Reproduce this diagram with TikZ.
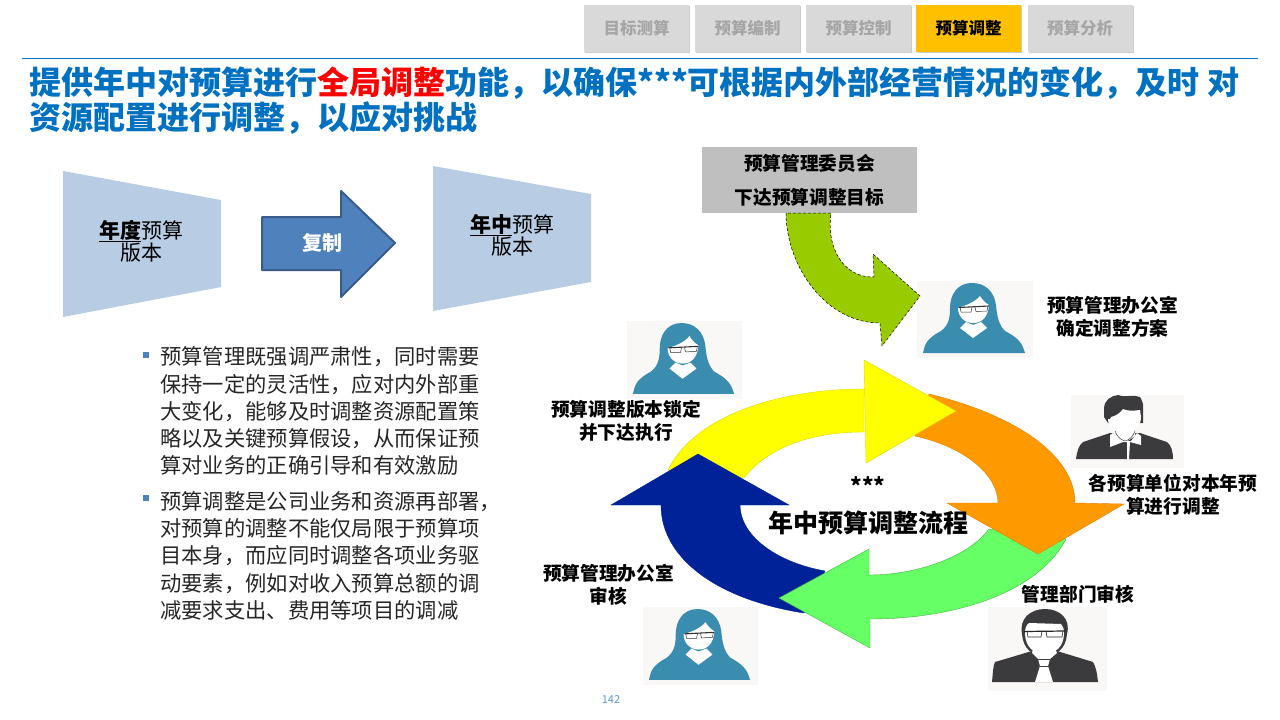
\documentclass[tikz,border=0pt]{standalone}
\usepackage{fontspec}
\setmainfont{Noto Sans CJK SC}
\usepackage{xcolor}
\usepackage{tikz}
\usetikzlibrary{positioning,shadows}
\definecolor{bleutitre}{HTML}{0070C0}
\definecolor{rougetitre}{HTML}{FF0000}
\definecolor{griscase}{HTML}{D9D9D9}
\definecolor{gristexte}{HTML}{A6A6A6}
\definecolor{orcase}{HTML}{FFC000}
\definecolor{bleutrapeze}{HTML}{B8CCE4}
\definecolor{bleufleche}{HTML}{4F81BD}
\definecolor{bleubord}{HTML}{385D8A}
\definecolor{grisboite}{HTML}{BFBFBF}
\definecolor{vertfleche}{HTML}{99CC00}
\definecolor{jaunecycle}{HTML}{FFFF00}
\definecolor{orangecycle}{HTML}{FF9900}
\definecolor{vertcycle}{HTML}{66FF66}
\definecolor{bleucycle}{HTML}{002299}
\definecolor{bleuicone}{HTML}{3A8DAF}
\definecolor{grisicone}{HTML}{3B3B3E}
\definecolor{fondicone}{HTML}{FAF8F6}
\definecolor{bleupage}{HTML}{5B9BD5}
\tikzset{
  tabbox/.style={fill=griscase, text=gristexte, minimum width=105pt, minimum height=47pt, inner sep=0pt,
    drop shadow={shadow xshift=1.2pt, shadow yshift=-1.2pt, fill=black, opacity=.2},
    font=\fontsize{16.5}{16.5}\selectfont\bfseries},
  steplabel/.style={align=center, inner sep=0pt, font=\fontsize{18.7}{23}\selectfont\bfseries},
  bodytext/.style={align=left, anchor=north west, inner sep=0pt, text=black!85, font=\fontsize{21.3}{27.3}\selectfont},
  versionlabel/.style={align=center, inner sep=0pt, font=\fontsize{21}{22}\selectfont},
  womanicon/.pic={
    \fill[fondicone] (0,0) rectangle (116,77);
    \fill[bleuicone] (55,2) .. controls (40,2) and (33,14) .. (33,27) .. controls (33,36) and (32,44) .. (24,50) -- (88,50) .. controls (82,44) and (80,36) .. (79,24) .. controls (77,10) and (68,2) .. (55,2) -- cycle;
    \fill[bleuicone] (6,72) .. controls (8,64) and (8,58) .. (26,49) -- (86,49) .. controls (102,57) and (105,62) .. (108,72) -- cycle;
    \fill[white] (41,27) .. controls (41,36) and (48,42) .. (56,42) .. controls (65,42) and (71,36) .. (72,24) .. controls (68,22) and (65,18) .. (63,15) .. controls (58,21) and (50,24) .. (41,27) -- cycle;
    \fill[white] (43,47) -- (49,41) -- (56,44) -- (64,41) -- (70,47) -- (56,57) -- cycle;
    \draw[black!80, line width=1.1pt] (42,26.5) -- (72,25);
    \draw[black!80, line width=.5pt] (43,26) -- (44,31) -- (54,31) -- (55,26) (58,26) -- (59,30.5) -- (70,30) -- (71,25);
  },
  manshirt/.pic={
    \fill[fondicone] (0,0) rectangle (113,73);
    \fill[grisicone] (5,64) .. controls (6,56) and (8,50) .. (12,47) -- (39,38) -- (69,38) -- (96,47) .. controls (100,50) and (102,56) .. (102,64) -- cycle;
    \fill[grisicone] (33,14) .. controls (33,5) and (40,1) .. (47,0) .. controls (55,3) and (62,-1) .. (69,2) .. controls (71,6) and (73,9) .. (72,14) -- (72,28) -- (37,28) -- (33,22) -- cycle;
    \fill[white] (37,24) .. controls (37,33) and (45,39) .. (53,39) .. controls (62,39) and (70,33) .. (70,22) -- (69,15) .. controls (62,16) and (56,16) .. (52,14) .. controls (49,18) and (45,21) .. (40,22) -- (39,24) -- cycle;
    \fill[white] (42,35) -- (64,35) -- (64,41) -- (55,47) -- (44,41) -- cycle;
    \fill[white] (39,40) -- (42,38) -- (53,46) -- (60,46) -- (66,38) -- (70,41) -- (70,50) -- (59,47) -- (58,64) -- (56,64) -- (56,47) -- (52,47) -- (39,52) -- cycle;
    \draw[grisicone, line width=.5pt] (44,36) .. controls (46,42) and (50,45) .. (54,46) .. controls (58,45) and (62,42) .. (64,36);
  },
  mantie/.pic={
    \fill[fondicone] (0,0) rectangle (119,84);
    \fill[grisicone] (4,75) .. controls (5,65) and (5,59) .. (7,55) -- (44,44) -- (69,44) -- (105,55) .. controls (108,60) and (109,66) .. (110,75) -- cycle;
    \fill[grisicone] (34,27) .. controls (31,12) and (42,2) .. (57,2) .. controls (72,2) and (83,12) .. (79,27) .. controls (78,42) and (68,49) .. (56,49) .. controls (45,49) and (35,42) .. (34,27) -- cycle;
    \fill[white] (37,26) .. controls (37,40) and (46,47) .. (56,47) .. controls (67,47) and (76,40) .. (76,26) .. controls (76,22) and (75,19) .. (73,17) -- (41,16) .. controls (38,18) and (37,22) .. (37,26) -- cycle;
    \fill[white] (45,42) -- (67,42) -- (69,46) -- (62,52) -- (60,59) -- (65,75) -- (47,75) -- (52,59) -- (50,52) -- (44,46) -- cycle;
    \draw[grisicone, line width=.5pt] (50,52) -- (62,52) (52,59) -- (60,59);
    \draw[black!85, line width=1.2pt] (36,24.5) -- (77,24);
    \draw[black!85, line width=.6pt] (39,24) -- (40,30) -- (53,30) -- (54,24) (58,24) -- (59,30) -- (74,30) -- (75,24);
  }
}
\begin{document}
\begin{tikzpicture}[x=1pt,y=-1pt]
\path[use as bounding box] (0,0) rectangle (1280,720);

\foreach \n/\x/\label in {1/636.5/目标测算,2/747.5/预算编制,3/858.5/预算控制,5/1080/预算分析} {
  \node[tabbox] (tab\n) at (\x,28.5) {\label};
}
\node[tabbox, fill=orcase, text=black] (tab4) at (968.5,28.5) {预算调整};
\draw[bleutitre, line width=1pt] (22,58.5) -- (1258,58.5);

\node[align=left, anchor=north west, inner sep=0pt, text=bleutitre, font=\fontsize{32}{35}\selectfont\bfseries] (titre) at (29,67) {提供年中对预算进行{\color{rougetitre}全局调整}功能，以确保***可根据内外部经营情况的变化，及时 对\\资源配置进行调整，以应对挑战};

\fill[bleutrapeze] (63,171) -- (221,200) -- (221,287) -- (63,317) -- cycle;
\fill[bleutrapeze] (433,166) -- (591,194) -- (591,282) -- (433,311) -- cycle;
\node[versionlabel] (annuel) at (141,241) {\underline{\textbf{年度}}预算\\版本};
\node[versionlabel] (milieu) at (512,235) {\underline{\textbf{年中}}预算\\版本};
\filldraw[fill=bleufleche, draw=bleubord, line width=2pt, line join=round] (262,217) -- (341,217) -- (341,191) -- (395,243) -- (341,297) -- (341,270) -- (262,270) -- cycle;
\node[inner sep=0pt, text=white, font=\fontsize{20}{20}\selectfont\bfseries] (copie) at (322,243) {复制};

\foreach \y in {355,498} {
  \fill[bleufleche] (143,\y-3) rectangle (149,\y+3);
}
\node[bodytext] (texteun) at (160,346.5) {预算管理既强调严肃性，同时需要\\保持一定的灵活性，应对内外部重\\大变化，能够及时调整资源配置策\\略以及关键预算假设，从而保证预\\算对业务的正确引导和有效激励};
\node[bodytext] (textedeux) at (160,491) {预算调整是公司业务和资源再部署，\\对预算的调整不能仅局限于预算项\\目本身，而应同时调整各项业务驱\\动要素，例如对收入预算总额的调\\减要求支出、费用等项目的调减};

\node[fill=grisboite, minimum width=215pt, minimum height=66pt, inner sep=0pt, align=center, font=\fontsize{18.7}{34}\selectfont\bfseries] (comite) at (809.5,180) {预算管理委员会\\下达预算调整目标};

\foreach \n/\x/\y/\w/\h in {1/917/281/116/77,2/627/321/115/78,3/643/607/115/78} {
  \pic[xscale=\w/116, yscale=\h/77] (femme\n) at (\x,\y) {womanicon};
}
\pic (homme1) at (1071,395) {manshirt};
\pic (homme2) at (988,607) {mantie};

\filldraw[fill=vertfleche, draw=black, densely dashed, line width=.5pt] (786,213) .. controls (786,265) and (825,323) .. (880,323) -- (882,346) -- (920,296) -- (873,254) -- (874,277) .. controls (845,278) and (826,250) .. (831,213) -- cycle;

% cycle
\filldraw[fill=jaunecycle, draw=jaunecycle!85!black, line width=.4pt] (668,470) .. controls (695,415) and (780,389) .. (864,389) -- (864,432) .. controls (815,432) and (770,445) .. (744,478) -- cycle;
\filldraw[fill=bleucycle, draw=bleucycle, line width=.4pt] (804,613) .. controls (720,600) and (661,560) .. (661,505) -- (611,505) -- (698,454) -- (789,505) -- (740,505) .. controls (740,535) and (775,562) .. (825,571) -- cycle;
\filldraw[fill=vertcycle, draw=vertcycle!70!black, line width=.4pt] (1066,539) .. controls (1040,590) and (960,619) .. (870,619) -- (870,648) -- (779,598) -- (869,549) -- (869,575) .. controls (920,575) and (970,555) .. (989,529) -- cycle;
\filldraw[fill=orangecycle, draw=orangecycle!85!black, line width=.4pt] (929,394) .. controls (1015,415) and (1075,455) .. (1075,503) -- (1124,504) -- (1038,554) -- (947,503) -- (998,503) .. controls (998,475) and (965,447) .. (915,436) -- cycle;
\filldraw[fill=jaunecycle, draw=jaunecycle!85!black, line width=.4pt] (864,360) -- (956,411) -- (866,463) -- cycle;

\node[inner sep=0pt, font=\fontsize{22}{22}\selectfont\bfseries] (societe) at (868,486) {***};
\node[inner sep=0pt, font=\fontsize{25}{25}\selectfont\bfseries] (processus) at (868,523) {年中预算调整流程};

\node[steplabel] (bureau) at (1112.5,317) {预算管理办公室\\确定调整方案};
\node[steplabel] (unites) at (1173,495) {各预算单位对本年预\\算进行调整};
\node[steplabel] (gestion) at (1078,594) {管理部门审核};
\node[steplabel] (audit) at (608.5,585) {预算管理办公室\\审核};
\node[steplabel] (version) at (626,421) {预算调整版本锁定\\并下达执行};

\node[inner sep=0pt, text=bleupage, font=\fontsize{11}{11}\selectfont] (page) at (611,699) {142};
\end{tikzpicture}
\end{document}
